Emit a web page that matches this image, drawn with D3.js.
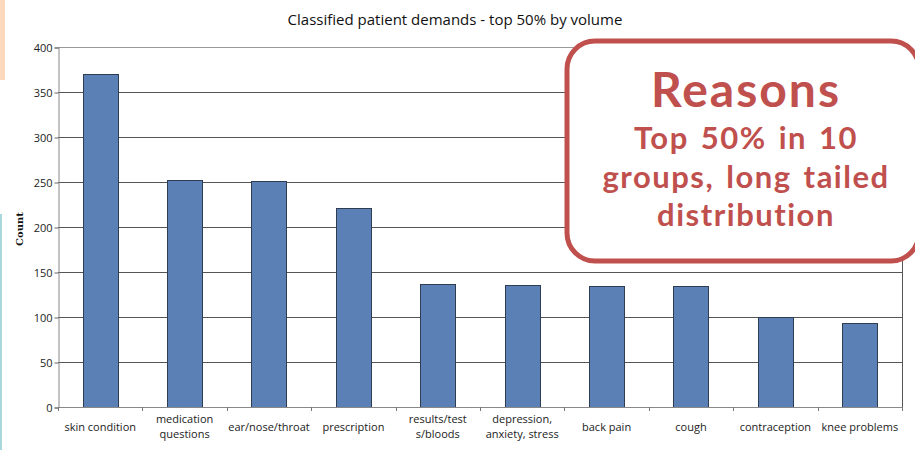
<!DOCTYPE html>
<html>
<head>
<meta charset="utf-8">
<script src="https://cdn.jsdelivr.net/npm/d3@7"></script>
<style>
  body { margin: 0; background: #fff; }
  svg { display: block; font-family: "Open Sans", "Liberation Sans", sans-serif; }
  .callout text { font-variant-ligatures: none; }
</style>
</head>
<body>
<div class="chart-container"></div>
<script>
/********** the Data **********/
const categories = ["skin condition", "medication questions", "ear/nose/throat", "prescription",
  "results/test s/bloods", "depression, anxiety, stress", "back pain", "cough",
  "contraception", "knee problems"];
// label lines as printed under each bar
const labelLines = [["skin condition"], ["medication", "questions"], ["ear/nose/throat"], ["prescription"],
  ["results/test", "s/bloods"], ["depression,", "anxiety, stress"], ["back pain"], ["cough"],
  ["contraception"], ["knee problems"]];
const counts = [370, 252, 251, 221, 137, 136, 135, 135, 100, 93];
const yTicks = [0, 50, 100, 150, 200, 250, 300, 350, 400];
const calloutLines = ["Top 50% in 10", "groups, long tailed", "distribution"];

/********** drawChart **********/
function drawChart() {
  let width = 915, height = 450;
  let margin = {top: 47, right: 13, bottom: 43, left: 58};

  let svg = d3.select(".chart-container").append("svg")
    .attr("width", width)
    .attr("height", height);

  // slide decorations at the left edge
  svg.append("rect").attr("x", 0).attr("y", 0).attr("width", 5).attr("height", 80).attr("fill", "#fcd9bd");
  svg.append("rect").attr("x", 0).attr("y", 214).attr("width", 2).attr("height", 236).attr("fill", "#a9d8dc");

  let xScale = d3.scaleBand()
    .domain(categories)
    .range([margin.left, width - margin.right])
    .paddingInner(0.585)
    .paddingOuter(0.2925);

  let yScale = d3.scaleLinear()
    .domain([0, 400])
    .range([height - margin.bottom, margin.top]);

  // gridlines
  svg.append("g").attr("class", "grid")
    .selectAll("line").data(yTicks.filter(d => d > 0)).enter().append("line")
      .attr("x1", margin.left).attr("x2", width - margin.right)
      .attr("y1", d => yScale(d) + 0.5).attr("y2", d => yScale(d) + 0.5)
      .attr("stroke", d => d === 400 ? "#999" : "#555")
      .attr("stroke-width", 1);

  // right border
  svg.append("line")
    .attr("x1", width - margin.right + 0.5).attr("x2", width - margin.right + 0.5)
    .attr("y1", yScale(400)).attr("y2", yScale(0))
    .attr("stroke", "#555");

  // bars
  svg.selectAll(".bar").data(counts).enter().append("rect")
    .attr("class", "bar")
    .attr("x", (d, i) => Math.round(xScale(categories[i])) + 0.5)
    .attr("y", d => Math.round(yScale(d)) + 0.5)
    .attr("width", Math.round(xScale.bandwidth()))
    .attr("height", d => Math.round(yScale(0)) - Math.round(yScale(d)))
    .attr("fill", "#5b80b5")
    .attr("stroke", "#2e3d52")
    .attr("stroke-width", 1);

  // y axis
  let yAxis = d3.axisLeft(yScale).tickValues(yTicks).tickSize(4).tickPadding(2);
  let yG = svg.append("g")
    .attr("transform", `translate(${margin.left + 0.5}, 0.5)`)
    .call(yAxis);
  yG.select(".domain").attr("stroke", "#888");
  yG.selectAll(".tick line").attr("stroke", "#666");
  yG.selectAll("text").attr("font-size", 11).attr("fill", "#222")
    .attr("font-family", "'Open Sans', sans-serif");

  // x axis: line and boundary ticks
  let xG = svg.append("g").attr("class", "x-axis");
  xG.append("line")
    .attr("x1", margin.left).attr("x2", width - margin.right + 1)
    .attr("y1", yScale(0) + 0.5).attr("y2", yScale(0) + 0.5)
    .attr("stroke", "#888");
  let bounds = categories.map(c => xScale(c) - xScale.step() * xScale.paddingInner() / 2)
    .concat([width - margin.right]);
  bounds[0] = margin.left;
  xG.selectAll(".xtick").data(bounds).enter().append("line")
    .attr("x1", d => Math.round(d) + 0.5).attr("x2", d => Math.round(d) + 0.5)
    .attr("y1", yScale(0)).attr("y2", yScale(0) + 4)
    .attr("stroke", "#777");

  // x labels
  let labels = svg.selectAll(".xlab").data(labelLines).enter().append("text")
    .attr("class", "xlab")
    .attr("text-anchor", "middle")
    .attr("font-size", 11)
    .attr("fill", "#222")
    .attr("x", (d, i) => xScale(categories[i]) + xScale.bandwidth() / 2)
    .attr("y", d => d.length === 1 ? 431 : 423);
  labels.selectAll("tspan").data(d => d).enter().append("tspan")
    .attr("x", function () { return this.parentNode.getAttribute("x"); })
    .attr("dy", (d, i) => i === 0 ? 0 : 15)
    .text(d => d);

  // title
  svg.append("text")
    .attr("x", 455).attr("y", 25)
    .attr("text-anchor", "middle")
    .attr("font-size", 15)
    .attr("fill", "#111")
    .text("Classified patient demands - top 50% by volume");

  // y axis label
  svg.append("text")
    .attr("transform", `translate(23, ${(yScale(0) + yScale(400)) / 2 + 2}) rotate(-90)`)
    .attr("text-anchor", "middle")
    .attr("font-size", 10)
    .attr("font-weight", "bold")
    .attr("font-family", "'DejaVu Serif', serif")
    .attr("fill", "#111")
    .text("Count");

  // callout box
  let box = svg.append("g").attr("class", "callout");
  box.append("rect")
    .attr("x", 567).attr("y", 41)
    .attr("width", 352).attr("height", 220)
    .attr("rx", 28).attr("ry", 28)
    .attr("fill", "#fff")
    .attr("stroke", "#c0504d")
    .attr("stroke-width", 5);
  box.append("text")
    .attr("x", 746).attr("y", 107)
    .attr("text-anchor", "middle")
    .attr("font-family", "Lato, sans-serif")
    .attr("font-weight", "bold")
    .attr("font-size", 48)
    .attr("letter-spacing", 2)
    .attr("fill", "#c0504d")
    .text("Reasons");
  box.selectAll(".cl").data(calloutLines).enter().append("text")
    .attr("class", "cl")
    .attr("x", 746)
    .attr("y", (d, i) => 149 + i * 38.5)
    .attr("text-anchor", "middle")
    .attr("font-family", "Lato, sans-serif")
    .attr("font-weight", "bold")
    .attr("font-size", 31)
    .attr("letter-spacing", 1.5)
    .attr("word-spacing", 3)
    .attr("fill", "#c0504d")
    .text(d => d);
}

drawChart();
</script>
</body>
</html>
